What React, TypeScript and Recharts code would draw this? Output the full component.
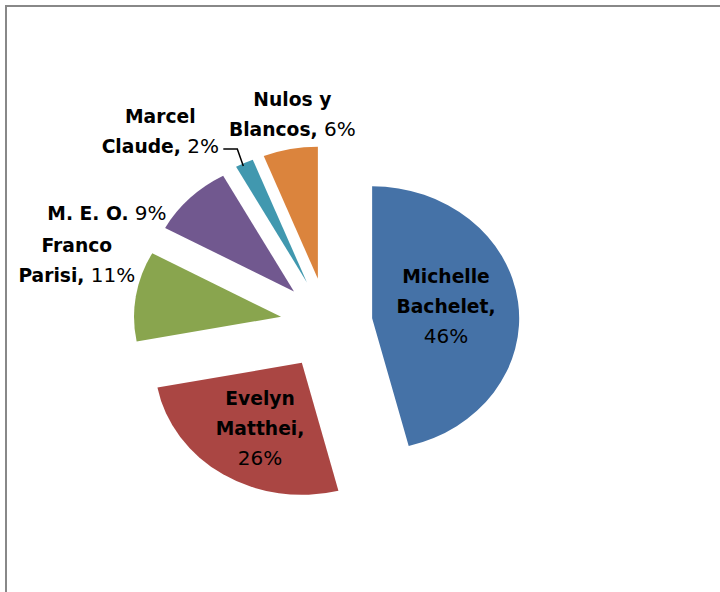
import { PieChart, Pie, Cell, Sector } from 'recharts';

const names = ['Michelle Bachelet', 'Evelyn Matthei', 'Franco Parisi', 'M. E. O.', 'Marcel Claude', 'Nulos y Blancos'];
const votes = [46, 26, 11, 9, 2, 6];
const colors = ['#4572A7', '#AA4643', '#89A54E', '#71588F', '#4198AF', '#DB843D'];

// how the label text is broken into lines (bold part), and where the % goes
const labelLines = [['Michelle', 'Bachelet,'], ['Evelyn', 'Matthei,'], ['Franco', 'Parisi,'], ['M. E. O.'], ['Marcel', 'Claude,'], ['Nulos y', 'Blancos,']];
const pctOnOwnLine = [true, true, false, false, false, false];
// label centre, relative to the outer edge point of each slice
const labelShift = [[-72, 5], [37, -45.5], [-59, -36], [-83, 15.5], [-84, -31], [2, -35]];

const data = names.map((name, i) => ({ name, value: votes[i] }));

const RAD = Math.PI / 180;
const EXPLODE = 46;
const STRETCH = 1.114; // the original pie is a bit wider than tall
const FONT = 'DejaVu Sans, sans-serif';
const FONT_SIZE = 18.7;
const PCT_SIZE = 20;
const LINE = 30;

function sliceOrigin(cx: number, cy: number, midAngle: number) {
  const dx = Math.cos(midAngle * RAD);
  const dy = -Math.sin(midAngle * RAD);
  return { vx: cx + EXPLODE * dx, vy: cy + EXPLODE * dy, dx, dy };
}

function ExplodedSlice(props: any) {
  const { cx, cy, midAngle, outerRadius, startAngle, endAngle, fill } = props;
  const { vx, vy } = sliceOrigin(cx, cy, midAngle);
  return (
    <g transform={`translate(${vx} ${vy}) scale(${STRETCH} 1)`}>
      <Sector cx={0} cy={0} innerRadius={0} outerRadius={outerRadius} startAngle={startAngle} endAngle={endAngle} fill={fill} stroke="none" />
    </g>
  );
}

function SliceLabel(props: any) {
  const { cx, cy, midAngle, outerRadius, percent, index } = props;
  const { vx, vy, dx, dy } = sliceOrigin(cx, cy, midAngle);
  const ex = vx + outerRadius * STRETCH * dx;
  const ey = vy + outerRadius * dy;
  const [sx, sy] = labelShift[index];
  const pct = `${Math.round(percent * 100)}%`;
  const lines: { bold: string; pct: string }[] = labelLines[index].map((t) => ({ bold: t, pct: '' }));
  if (pctOnOwnLine[index]) lines.push({ bold: '', pct });
  else lines[lines.length - 1].pct = ' ' + pct;
  const x = ex + sx;
  const y = ey + sy;
  const n = lines.length;
  return (
    <g>
      {index === 4 && (
        <polyline
          points={`${ex - 21},${ey - 14} ${ex - 7},${ey - 14} ${ex - 1},${ey + 3}`}
          fill="none"
          stroke="#000"
          strokeWidth={1.5}
        />
      )}
      {lines.map((l, i) => (
        <text
          key={i}
          x={x}
          y={y + (i - (n - 1) / 2) * LINE + FONT_SIZE * 0.35}
          textAnchor="middle"
          fontFamily={FONT}
          fontSize={FONT_SIZE}
          fill="#000"
        >
          {l.bold && <tspan fontWeight="bold">{l.bold}</tspan>}
          {l.pct && <tspan fontSize={PCT_SIZE}>{l.pct}</tspan>}
        </text>
      ))}
    </g>
  );
}

export default function App() {
  return (
    <div style={{ position: 'absolute', left: 0, top: 0, width: 720, height: 592, background: '#fff', overflow: 'hidden' }}>
      <div style={{ position: 'absolute', left: 5, top: 5, width: 740, height: 620, borderTop: '2px solid #888', borderLeft: '2px solid #888' }} />
      <div style={{ position: 'absolute', left: 0, top: 0 }}>
        <PieChart width={720} height={592} margin={{ top: 0, right: 0, bottom: 0, left: 0 }}>
          <Pie
            data={data}
            dataKey="value"
            nameKey="name"
            cx={326.5}
            cy={324}
            outerRadius={132}
            startAngle={90}
            endAngle={-270}
            stroke="none"
            shape={ExplodedSlice}
            label={SliceLabel}
            labelLine={false}
            isAnimationActive={false}
          >
            {data.map((d, i) => (
              <Cell key={d.name} fill={colors[i]} />
            ))}
          </Pie>
        </PieChart>
      </div>
    </div>
  );
}
